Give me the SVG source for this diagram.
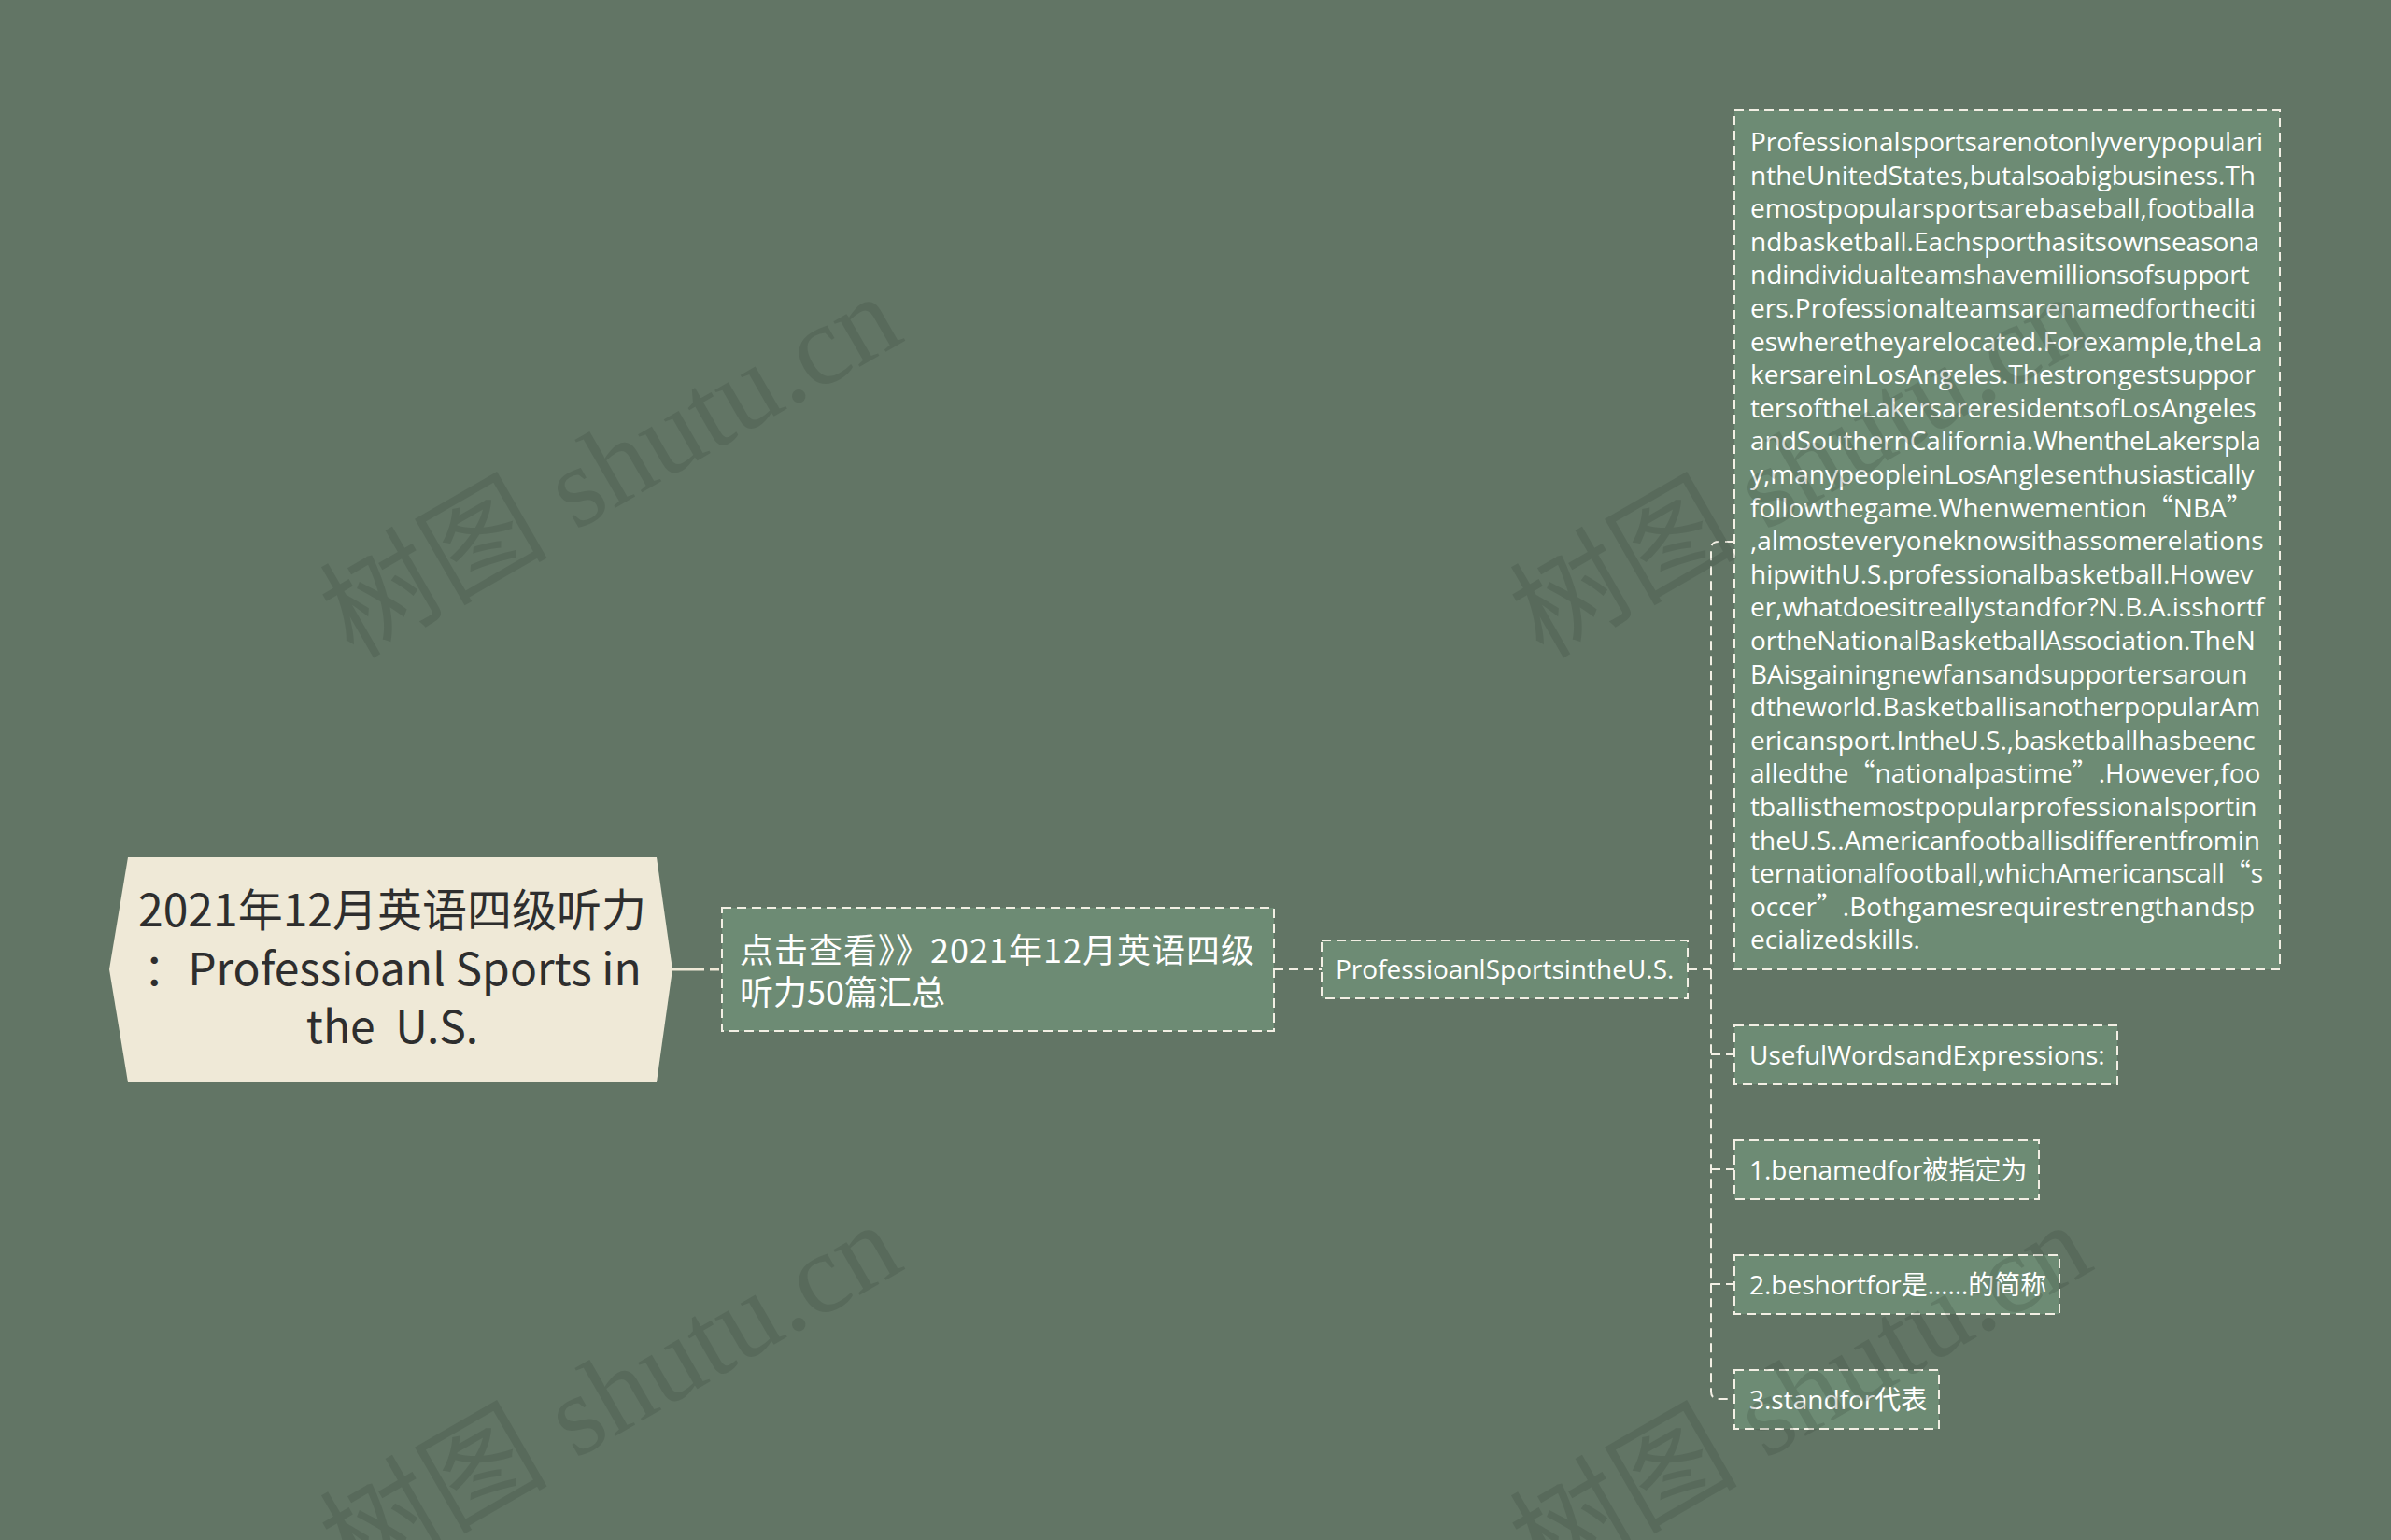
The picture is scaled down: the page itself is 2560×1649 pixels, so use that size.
<svg xmlns="http://www.w3.org/2000/svg" width="2560" height="1649" viewBox="0 0 2560 1649">
<style>
.bg{fill:#627565}
.root{fill:#efe9d7}
.rootText{font-family:"Noto Sans CJK SC","Open Sans",sans-serif;font-size:48px;fill:#2e2e2e;text-anchor:middle;white-space:pre}
.box{fill:#6d8b74;stroke:#f2efe4;stroke-width:2;stroke-dasharray:10 6}
.t{font-family:"Open Sans","Noto Sans CJK SC",sans-serif;font-size:28px;fill:#ffffff}
.cjk{font-family:"Noto Sans CJK SC","Open Sans",sans-serif;font-size:36px;fill:#ffffff}
.q{font-family:"Noto Sans CJK SC",sans-serif}
.link{fill:none;stroke:#f2efe4;stroke-width:2;stroke-dasharray:10 6}
.link0{fill:none;stroke:#efe9d7;stroke-width:3;stroke-dasharray:34 6 10 6}
.wm{font-family:"Liberation Serif","Noto Sans CJK SC",serif;font-size:122px;fill:#2d3a30;opacity:0.18}
</style>
<rect class="bg" x="0" y="0" width="2560" height="1649"/>

<g id="connectors">
  <path class="link0" d="M720,1038 H773"/>
  <path class="link" d="M1364,1038 H1415"/>
  <path class="link" d="M1807,1038 H1832"/>
  <path class="link" d="M1857,580 H1840 Q1832,580 1832,588 V1490 Q1832,1498 1840,1498 H1857"/>
  <path class="link" d="M1832,1129 H1857"/>
  <path class="link" d="M1832,1252 H1857"/>
  <path class="link" d="M1832,1375 H1857"/>
</g>

<g id="root">
  <polygon class="root" points="137,918 703,918 720,1038 703,1159 137,1159 117,1038"/>
  <text class="rootText" x="420" y="992">2021年12月英语四级听力</text>
  <text class="rootText" x="420" y="1055">：Professioanl Sports in</text>
  <text class="rootText" x="420" y="1117">the  U.S.</text>
</g>

<g id="node-summary">
  <rect class="box" x="773" y="972" width="591" height="132"/>
  <text class="cjk" x="792" y="1031" textLength="551">点击查看》》2021年12月英语四级</text>
  <text class="cjk" x="792" y="1076">听力50篇汇总</text>
</g>

<g id="node-title">
  <rect class="box" x="1415" y="1007" width="392" height="62"/>
  <text class="t" x="1430" y="1048">ProfessioanlSportsintheU.S.</text>
</g>

<g id="node-article">
  <rect class="box" x="1857" y="118" width="584" height="920"/>
  <text class="t" x="1874" y="162">Professionalsportsarenotonlyverypopulari</text>
  <text class="t" x="1874" y="197.6">ntheUnitedStates,butalsoabigbusiness.Th</text>
  <text class="t" x="1874" y="233.2">emostpopularsportsarebaseball,footballa</text>
  <text class="t" x="1874" y="268.8">ndbasketball.Eachsporthasitsownseasona</text>
  <text class="t" x="1874" y="304.4">ndindividualteamshavemillionsofsupport</text>
  <text class="t" x="1874" y="340">ers.Professionalteamsarenamedfortheciti</text>
  <text class="t" x="1874" y="375.6">eswheretheyarelocated.Forexample,theLa</text>
  <text class="t" x="1874" y="411.2">kersareinLosAngeles.Thestrongestsuppor</text>
  <text class="t" x="1874" y="446.8">tersoftheLakersareresidentsofLosAngeles</text>
  <text class="t" x="1874" y="482.4">andSouthernCalifornia.WhentheLakerspla</text>
  <text class="t" x="1874" y="518">y,manypeopleinLosAnglesenthusiastically</text>
  <text class="t" x="1874" y="553.6">followthegame.Whenwemention<tspan class="q">“</tspan>NBA<tspan class="q">”</tspan></text>
  <text class="t" x="1874" y="589.2">,almosteveryoneknowsithassomerelations</text>
  <text class="t" x="1874" y="624.8">hipwithU.S.professionalbasketball.Howev</text>
  <text class="t" x="1874" y="660.4">er,whatdoesitreallystandfor?N.B.A.isshortf</text>
  <text class="t" x="1874" y="696">ortheNationalBasketballAssociation.TheN</text>
  <text class="t" x="1874" y="731.6">BAisgainingnewfansandsupportersaroun</text>
  <text class="t" x="1874" y="767.2">dtheworld.BasketballisanotherpopularAm</text>
  <text class="t" x="1874" y="802.8">ericansport.IntheU.S.,basketballhasbeenc</text>
  <text class="t" x="1874" y="838.4">alledthe<tspan class="q">“</tspan>nationalpastime<tspan class="q">”</tspan>.However,foo</text>
  <text class="t" x="1874" y="874">tballisthemostpopularprofessionalsportin</text>
  <text class="t" x="1874" y="909.6">theU.S..Americanfootballisdifferentfromin</text>
  <text class="t" x="1874" y="945.2">ternationalfootball,whichAmericanscall<tspan class="q">“</tspan>s</text>
  <text class="t" x="1874" y="980.8">occer<tspan class="q">”</tspan>.Bothgamesrequirestrengthandsp</text>
  <text class="t" x="1874" y="1016.4">ecializedskills.</text>
</g>

<g id="node-useful">
  <rect class="box" x="1857" y="1098" width="410" height="63"/>
  <text class="t" x="1873" y="1140">UsefulWordsandExpressions:</text>
</g>

<g id="node-1">
  <rect class="box" x="1857" y="1221" width="326" height="63"/>
  <text class="t" x="1873" y="1263">1.benamedfor被指定为</text>
</g>

<g id="node-2">
  <rect class="box" x="1857" y="1344" width="348" height="63"/>
  <text class="t" x="1873" y="1386">2.beshortfor是……的简称</text>
</g>

<g id="node-3">
  <rect class="box" x="1857" y="1467" width="219" height="63"/>
  <text class="t" x="1873" y="1509">3.standfor代表</text>
</g>

<g id="watermarks">
  <text class="wm" transform="translate(378,706) rotate(-30)">树图 shutu.cn</text>
  <text class="wm" transform="translate(378,1700) rotate(-30)">树图 shutu.cn</text>
  <text class="wm" transform="translate(1652,706) rotate(-30)">树图 shutu.cn</text>
  <text class="wm" transform="translate(1652,1700) rotate(-30)">树图 shutu.cn</text>
</g>
</svg>
